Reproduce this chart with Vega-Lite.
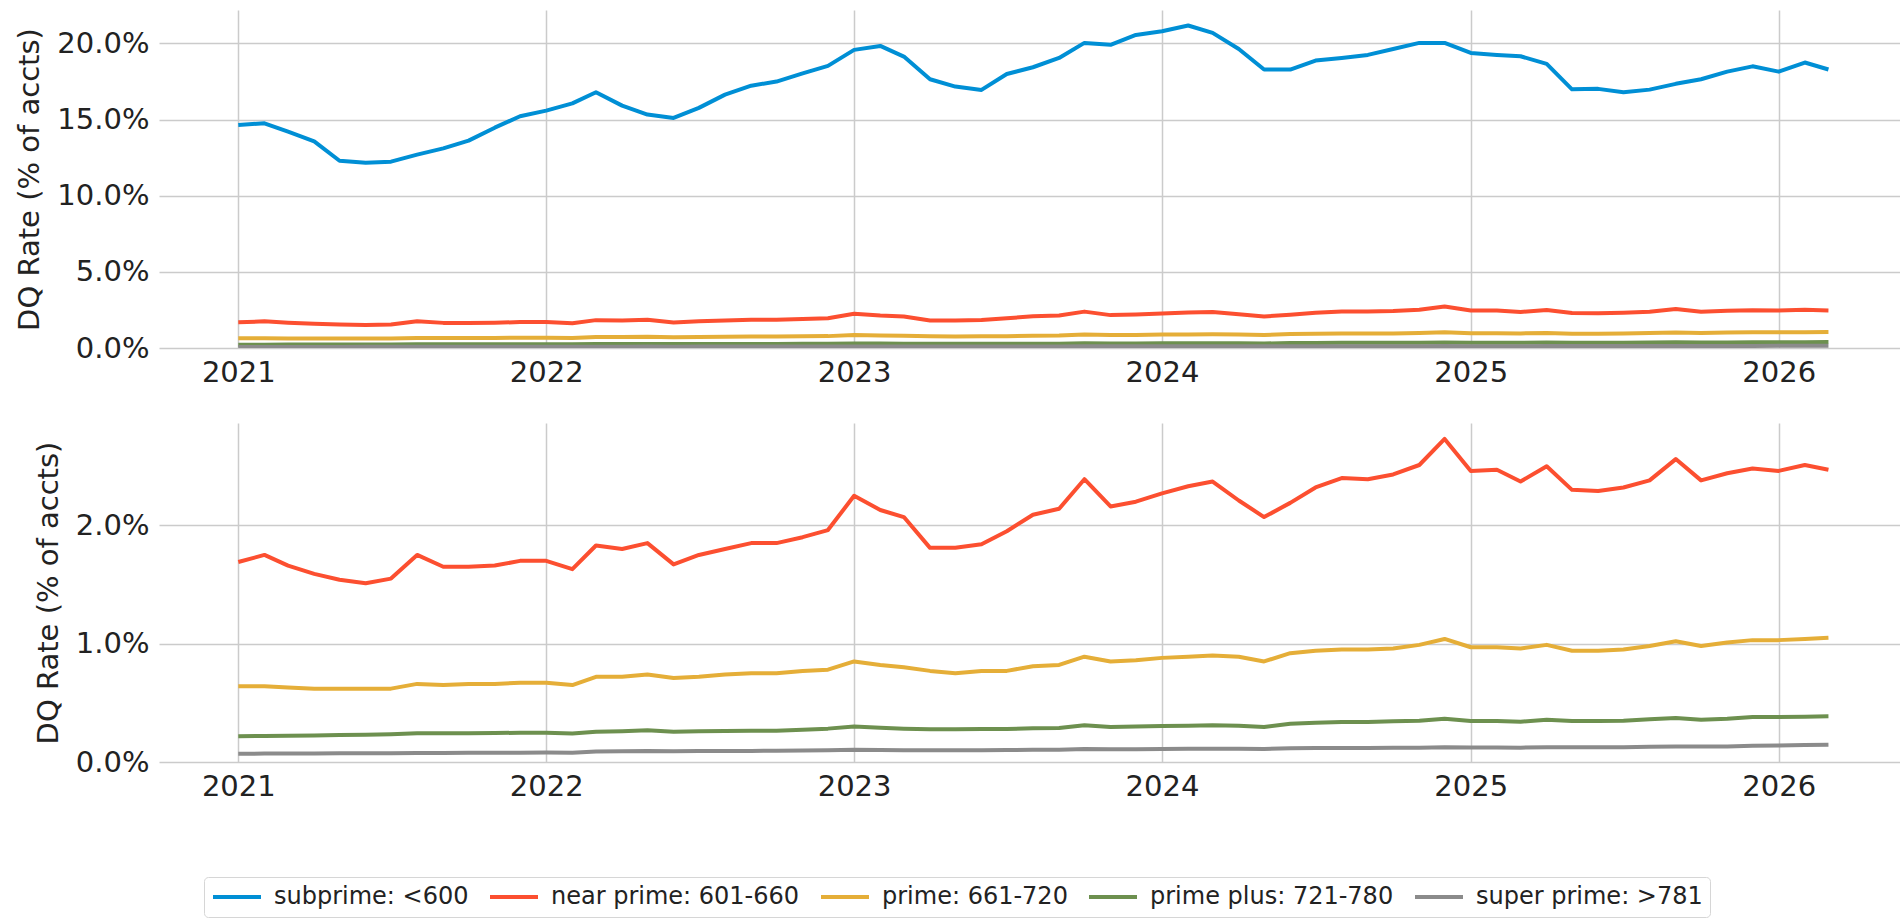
{
  "$schema": "https://vega.github.io/schema/vega-lite/v6.json",
  "background": "white",
  "padding": {"left": 15, "top": 10, "right": 0, "bottom": 0},
  "spacing": 36,
  "config": {
    "font": "DejaVu Sans",
    "view": {"stroke": null},
    "axis": {
      "labelFont": "DejaVu Sans",
      "labelFontSize": 29,
      "labelColor": "#222222",
      "titleFont": "DejaVu Sans",
      "titleFontSize": 29,
      "titleFontWeight": "normal",
      "titleColor": "#222222",
      "ticks": false,
      "domain": false,
      "grid": true,
      "gridColor": "#cbcbcb",
      "gridWidth": 1.5,
      "labelPadding": 10
    }
  },
  "data": {
    "format": {"parse": {"m": "date:'%Y-%m'"}},
    "values": [
      {"m":"2021-01","s":"subprime: <600","v":14.65},{"m":"2021-02","s":"subprime: <600","v":14.76},{"m":"2021-03","s":"subprime: <600","v":14.21},{"m":"2021-04","s":"subprime: <600","v":13.57},{"m":"2021-05","s":"subprime: <600","v":12.30},{"m":"2021-06","s":"subprime: <600","v":12.17},{"m":"2021-07","s":"subprime: <600","v":12.24},{"m":"2021-08","s":"subprime: <600","v":12.70},{"m":"2021-09","s":"subprime: <600","v":13.11},{"m":"2021-10","s":"subprime: <600","v":13.62},{"m":"2021-11","s":"subprime: <600","v":14.47},{"m":"2021-12","s":"subprime: <600","v":15.22},
      {"m":"2022-01","s":"subprime: <600","v":15.59},{"m":"2022-02","s":"subprime: <600","v":16.07},{"m":"2022-03","s":"subprime: <600","v":16.80},{"m":"2022-04","s":"subprime: <600","v":15.92},{"m":"2022-05","s":"subprime: <600","v":15.33},{"m":"2022-06","s":"subprime: <600","v":15.11},{"m":"2022-07","s":"subprime: <600","v":15.77},{"m":"2022-08","s":"subprime: <600","v":16.64},{"m":"2022-09","s":"subprime: <600","v":17.23},{"m":"2022-10","s":"subprime: <600","v":17.50},{"m":"2022-11","s":"subprime: <600","v":18.04},{"m":"2022-12","s":"subprime: <600","v":18.53},
      {"m":"2023-01","s":"subprime: <600","v":19.58},{"m":"2023-02","s":"subprime: <600","v":19.84},{"m":"2023-03","s":"subprime: <600","v":19.14},{"m":"2023-04","s":"subprime: <600","v":17.65},{"m":"2023-05","s":"subprime: <600","v":17.17},{"m":"2023-06","s":"subprime: <600","v":16.95},{"m":"2023-07","s":"subprime: <600","v":18.00},{"m":"2023-08","s":"subprime: <600","v":18.44},{"m":"2023-09","s":"subprime: <600","v":19.05},{"m":"2023-10","s":"subprime: <600","v":20.04},{"m":"2023-11","s":"subprime: <600","v":19.91},{"m":"2023-12","s":"subprime: <600","v":20.56},
      {"m":"2024-01","s":"subprime: <600","v":20.80},{"m":"2024-02","s":"subprime: <600","v":21.18},{"m":"2024-03","s":"subprime: <600","v":20.70},{"m":"2024-04","s":"subprime: <600","v":19.64},{"m":"2024-05","s":"subprime: <600","v":18.29},{"m":"2024-06","s":"subprime: <600","v":18.29},{"m":"2024-07","s":"subprime: <600","v":18.88},{"m":"2024-08","s":"subprime: <600","v":19.05},{"m":"2024-09","s":"subprime: <600","v":19.25},{"m":"2024-10","s":"subprime: <600","v":19.64},{"m":"2024-11","s":"subprime: <600","v":20.04},{"m":"2024-12","s":"subprime: <600","v":20.04},
      {"m":"2025-01","s":"subprime: <600","v":19.38},{"m":"2025-02","s":"subprime: <600","v":19.25},{"m":"2025-03","s":"subprime: <600","v":19.16},{"m":"2025-04","s":"subprime: <600","v":18.66},{"m":"2025-05","s":"subprime: <600","v":16.99},{"m":"2025-06","s":"subprime: <600","v":17.02},{"m":"2025-07","s":"subprime: <600","v":16.80},{"m":"2025-08","s":"subprime: <600","v":16.97},{"m":"2025-09","s":"subprime: <600","v":17.35},{"m":"2025-10","s":"subprime: <600","v":17.65},{"m":"2025-11","s":"subprime: <600","v":18.15},{"m":"2025-12","s":"subprime: <600","v":18.50},
      {"m":"2026-01","s":"subprime: <600","v":18.15},{"m":"2026-02","s":"subprime: <600","v":18.75},{"m":"2026-03","s":"subprime: <600","v":18.29},

      {"m":"2021-01","s":"near prime: 601-660","v":1.69},{"m":"2021-02","s":"near prime: 601-660","v":1.75},{"m":"2021-03","s":"near prime: 601-660","v":1.66},{"m":"2021-04","s":"near prime: 601-660","v":1.59},{"m":"2021-05","s":"near prime: 601-660","v":1.54},{"m":"2021-06","s":"near prime: 601-660","v":1.51},{"m":"2021-07","s":"near prime: 601-660","v":1.55},{"m":"2021-08","s":"near prime: 601-660","v":1.75},{"m":"2021-09","s":"near prime: 601-660","v":1.65},{"m":"2021-10","s":"near prime: 601-660","v":1.65},{"m":"2021-11","s":"near prime: 601-660","v":1.66},{"m":"2021-12","s":"near prime: 601-660","v":1.70},
      {"m":"2022-01","s":"near prime: 601-660","v":1.70},{"m":"2022-02","s":"near prime: 601-660","v":1.63},{"m":"2022-03","s":"near prime: 601-660","v":1.83},{"m":"2022-04","s":"near prime: 601-660","v":1.80},{"m":"2022-05","s":"near prime: 601-660","v":1.85},{"m":"2022-06","s":"near prime: 601-660","v":1.67},{"m":"2022-07","s":"near prime: 601-660","v":1.75},{"m":"2022-08","s":"near prime: 601-660","v":1.80},{"m":"2022-09","s":"near prime: 601-660","v":1.85},{"m":"2022-10","s":"near prime: 601-660","v":1.85},{"m":"2022-11","s":"near prime: 601-660","v":1.90},{"m":"2022-12","s":"near prime: 601-660","v":1.96},
      {"m":"2023-01","s":"near prime: 601-660","v":2.25},{"m":"2023-02","s":"near prime: 601-660","v":2.13},{"m":"2023-03","s":"near prime: 601-660","v":2.07},{"m":"2023-04","s":"near prime: 601-660","v":1.81},{"m":"2023-05","s":"near prime: 601-660","v":1.81},{"m":"2023-06","s":"near prime: 601-660","v":1.84},{"m":"2023-07","s":"near prime: 601-660","v":1.95},{"m":"2023-08","s":"near prime: 601-660","v":2.09},{"m":"2023-09","s":"near prime: 601-660","v":2.14},{"m":"2023-10","s":"near prime: 601-660","v":2.39},{"m":"2023-11","s":"near prime: 601-660","v":2.16},{"m":"2023-12","s":"near prime: 601-660","v":2.20},
      {"m":"2024-01","s":"near prime: 601-660","v":2.27},{"m":"2024-02","s":"near prime: 601-660","v":2.33},{"m":"2024-03","s":"near prime: 601-660","v":2.37},{"m":"2024-04","s":"near prime: 601-660","v":2.21},{"m":"2024-05","s":"near prime: 601-660","v":2.07},{"m":"2024-06","s":"near prime: 601-660","v":2.19},{"m":"2024-07","s":"near prime: 601-660","v":2.32},{"m":"2024-08","s":"near prime: 601-660","v":2.40},{"m":"2024-09","s":"near prime: 601-660","v":2.39},{"m":"2024-10","s":"near prime: 601-660","v":2.43},{"m":"2024-11","s":"near prime: 601-660","v":2.51},{"m":"2024-12","s":"near prime: 601-660","v":2.73},
      {"m":"2025-01","s":"near prime: 601-660","v":2.46},{"m":"2025-02","s":"near prime: 601-660","v":2.47},{"m":"2025-03","s":"near prime: 601-660","v":2.37},{"m":"2025-04","s":"near prime: 601-660","v":2.50},{"m":"2025-05","s":"near prime: 601-660","v":2.30},{"m":"2025-06","s":"near prime: 601-660","v":2.29},{"m":"2025-07","s":"near prime: 601-660","v":2.32},{"m":"2025-08","s":"near prime: 601-660","v":2.38},{"m":"2025-09","s":"near prime: 601-660","v":2.56},{"m":"2025-10","s":"near prime: 601-660","v":2.38},{"m":"2025-11","s":"near prime: 601-660","v":2.44},{"m":"2025-12","s":"near prime: 601-660","v":2.48},
      {"m":"2026-01","s":"near prime: 601-660","v":2.46},{"m":"2026-02","s":"near prime: 601-660","v":2.51},{"m":"2026-03","s":"near prime: 601-660","v":2.47},

      {"m":"2021-01","s":"prime: 661-720","v":0.64},{"m":"2021-02","s":"prime: 661-720","v":0.64},{"m":"2021-03","s":"prime: 661-720","v":0.63},{"m":"2021-04","s":"prime: 661-720","v":0.62},{"m":"2021-05","s":"prime: 661-720","v":0.62},{"m":"2021-06","s":"prime: 661-720","v":0.62},{"m":"2021-07","s":"prime: 661-720","v":0.62},{"m":"2021-08","s":"prime: 661-720","v":0.66},{"m":"2021-09","s":"prime: 661-720","v":0.65},{"m":"2021-10","s":"prime: 661-720","v":0.66},{"m":"2021-11","s":"prime: 661-720","v":0.66},{"m":"2021-12","s":"prime: 661-720","v":0.67},
      {"m":"2022-01","s":"prime: 661-720","v":0.67},{"m":"2022-02","s":"prime: 661-720","v":0.65},{"m":"2022-03","s":"prime: 661-720","v":0.72},{"m":"2022-04","s":"prime: 661-720","v":0.72},{"m":"2022-05","s":"prime: 661-720","v":0.74},{"m":"2022-06","s":"prime: 661-720","v":0.71},{"m":"2022-07","s":"prime: 661-720","v":0.72},{"m":"2022-08","s":"prime: 661-720","v":0.74},{"m":"2022-09","s":"prime: 661-720","v":0.75},{"m":"2022-10","s":"prime: 661-720","v":0.75},{"m":"2022-11","s":"prime: 661-720","v":0.77},{"m":"2022-12","s":"prime: 661-720","v":0.78},
      {"m":"2023-01","s":"prime: 661-720","v":0.85},{"m":"2023-02","s":"prime: 661-720","v":0.82},{"m":"2023-03","s":"prime: 661-720","v":0.80},{"m":"2023-04","s":"prime: 661-720","v":0.77},{"m":"2023-05","s":"prime: 661-720","v":0.75},{"m":"2023-06","s":"prime: 661-720","v":0.77},{"m":"2023-07","s":"prime: 661-720","v":0.77},{"m":"2023-08","s":"prime: 661-720","v":0.81},{"m":"2023-09","s":"prime: 661-720","v":0.82},{"m":"2023-10","s":"prime: 661-720","v":0.89},{"m":"2023-11","s":"prime: 661-720","v":0.85},{"m":"2023-12","s":"prime: 661-720","v":0.86},
      {"m":"2024-01","s":"prime: 661-720","v":0.88},{"m":"2024-02","s":"prime: 661-720","v":0.89},{"m":"2024-03","s":"prime: 661-720","v":0.90},{"m":"2024-04","s":"prime: 661-720","v":0.89},{"m":"2024-05","s":"prime: 661-720","v":0.85},{"m":"2024-06","s":"prime: 661-720","v":0.92},{"m":"2024-07","s":"prime: 661-720","v":0.94},{"m":"2024-08","s":"prime: 661-720","v":0.95},{"m":"2024-09","s":"prime: 661-720","v":0.95},{"m":"2024-10","s":"prime: 661-720","v":0.96},{"m":"2024-11","s":"prime: 661-720","v":0.99},{"m":"2024-12","s":"prime: 661-720","v":1.04},
      {"m":"2025-01","s":"prime: 661-720","v":0.97},{"m":"2025-02","s":"prime: 661-720","v":0.97},{"m":"2025-03","s":"prime: 661-720","v":0.96},{"m":"2025-04","s":"prime: 661-720","v":0.99},{"m":"2025-05","s":"prime: 661-720","v":0.94},{"m":"2025-06","s":"prime: 661-720","v":0.94},{"m":"2025-07","s":"prime: 661-720","v":0.95},{"m":"2025-08","s":"prime: 661-720","v":0.98},{"m":"2025-09","s":"prime: 661-720","v":1.02},{"m":"2025-10","s":"prime: 661-720","v":0.98},{"m":"2025-11","s":"prime: 661-720","v":1.01},{"m":"2025-12","s":"prime: 661-720","v":1.03},
      {"m":"2026-01","s":"prime: 661-720","v":1.03},{"m":"2026-02","s":"prime: 661-720","v":1.04},{"m":"2026-03","s":"prime: 661-720","v":1.05},

      {"m":"2021-01","s":"prime plus: 721-780","v":0.217},{"m":"2021-02","s":"prime plus: 721-780","v":0.220},{"m":"2021-03","s":"prime plus: 721-780","v":0.222},{"m":"2021-04","s":"prime plus: 721-780","v":0.225},{"m":"2021-05","s":"prime plus: 721-780","v":0.228},{"m":"2021-06","s":"prime plus: 721-780","v":0.231},{"m":"2021-07","s":"prime plus: 721-780","v":0.235},{"m":"2021-08","s":"prime plus: 721-780","v":0.243},{"m":"2021-09","s":"prime plus: 721-780","v":0.242},{"m":"2021-10","s":"prime plus: 721-780","v":0.243},{"m":"2021-11","s":"prime plus: 721-780","v":0.245},{"m":"2021-12","s":"prime plus: 721-780","v":0.247},
      {"m":"2022-01","s":"prime plus: 721-780","v":0.248},{"m":"2022-02","s":"prime plus: 721-780","v":0.240},{"m":"2022-03","s":"prime plus: 721-780","v":0.256},{"m":"2022-04","s":"prime plus: 721-780","v":0.260},{"m":"2022-05","s":"prime plus: 721-780","v":0.268},{"m":"2022-06","s":"prime plus: 721-780","v":0.255},{"m":"2022-07","s":"prime plus: 721-780","v":0.259},{"m":"2022-08","s":"prime plus: 721-780","v":0.262},{"m":"2022-09","s":"prime plus: 721-780","v":0.265},{"m":"2022-10","s":"prime plus: 721-780","v":0.265},{"m":"2022-11","s":"prime plus: 721-780","v":0.273},{"m":"2022-12","s":"prime plus: 721-780","v":0.282},
      {"m":"2023-01","s":"prime plus: 721-780","v":0.301},{"m":"2023-02","s":"prime plus: 721-780","v":0.290},{"m":"2023-03","s":"prime plus: 721-780","v":0.282},{"m":"2023-04","s":"prime plus: 721-780","v":0.276},{"m":"2023-05","s":"prime plus: 721-780","v":0.276},{"m":"2023-06","s":"prime plus: 721-780","v":0.279},{"m":"2023-07","s":"prime plus: 721-780","v":0.279},{"m":"2023-08","s":"prime plus: 721-780","v":0.285},{"m":"2023-09","s":"prime plus: 721-780","v":0.287},{"m":"2023-10","s":"prime plus: 721-780","v":0.310},{"m":"2023-11","s":"prime plus: 721-780","v":0.296},{"m":"2023-12","s":"prime plus: 721-780","v":0.299},
      {"m":"2024-01","s":"prime plus: 721-780","v":0.304},{"m":"2024-02","s":"prime plus: 721-780","v":0.307},{"m":"2024-03","s":"prime plus: 721-780","v":0.310},{"m":"2024-04","s":"prime plus: 721-780","v":0.307},{"m":"2024-05","s":"prime plus: 721-780","v":0.296},{"m":"2024-06","s":"prime plus: 721-780","v":0.324},{"m":"2024-07","s":"prime plus: 721-780","v":0.332},{"m":"2024-08","s":"prime plus: 721-780","v":0.338},{"m":"2024-09","s":"prime plus: 721-780","v":0.338},{"m":"2024-10","s":"prime plus: 721-780","v":0.344},{"m":"2024-11","s":"prime plus: 721-780","v":0.349},{"m":"2024-12","s":"prime plus: 721-780","v":0.366},
      {"m":"2025-01","s":"prime plus: 721-780","v":0.346},{"m":"2025-02","s":"prime plus: 721-780","v":0.346},{"m":"2025-03","s":"prime plus: 721-780","v":0.341},{"m":"2025-04","s":"prime plus: 721-780","v":0.358},{"m":"2025-05","s":"prime plus: 721-780","v":0.346},{"m":"2025-06","s":"prime plus: 721-780","v":0.346},{"m":"2025-07","s":"prime plus: 721-780","v":0.349},{"m":"2025-08","s":"prime plus: 721-780","v":0.361},{"m":"2025-09","s":"prime plus: 721-780","v":0.372},{"m":"2025-10","s":"prime plus: 721-780","v":0.358},{"m":"2025-11","s":"prime plus: 721-780","v":0.366},{"m":"2025-12","s":"prime plus: 721-780","v":0.380},
      {"m":"2026-01","s":"prime plus: 721-780","v":0.380},{"m":"2026-02","s":"prime plus: 721-780","v":0.383},{"m":"2026-03","s":"prime plus: 721-780","v":0.386},

      {"m":"2021-01","s":"super prime: >781","v":0.070},{"m":"2021-02","s":"super prime: >781","v":0.071},{"m":"2021-03","s":"super prime: >781","v":0.071},{"m":"2021-04","s":"super prime: >781","v":0.072},{"m":"2021-05","s":"super prime: >781","v":0.073},{"m":"2021-06","s":"super prime: >781","v":0.074},{"m":"2021-07","s":"super prime: >781","v":0.075},{"m":"2021-08","s":"super prime: >781","v":0.077},{"m":"2021-09","s":"super prime: >781","v":0.077},{"m":"2021-10","s":"super prime: >781","v":0.078},{"m":"2021-11","s":"super prime: >781","v":0.078},{"m":"2021-12","s":"super prime: >781","v":0.079},
      {"m":"2022-01","s":"super prime: >781","v":0.080},{"m":"2022-02","s":"super prime: >781","v":0.078},{"m":"2022-03","s":"super prime: >781","v":0.088},{"m":"2022-04","s":"super prime: >781","v":0.090},{"m":"2022-05","s":"super prime: >781","v":0.093},{"m":"2022-06","s":"super prime: >781","v":0.090},{"m":"2022-07","s":"super prime: >781","v":0.092},{"m":"2022-08","s":"super prime: >781","v":0.093},{"m":"2022-09","s":"super prime: >781","v":0.094},{"m":"2022-10","s":"super prime: >781","v":0.095},{"m":"2022-11","s":"super prime: >781","v":0.097},{"m":"2022-12","s":"super prime: >781","v":0.099},
      {"m":"2023-01","s":"super prime: >781","v":0.104},{"m":"2023-02","s":"super prime: >781","v":0.101},{"m":"2023-03","s":"super prime: >781","v":0.100},{"m":"2023-04","s":"super prime: >781","v":0.099},{"m":"2023-05","s":"super prime: >781","v":0.099},{"m":"2023-06","s":"super prime: >781","v":0.100},{"m":"2023-07","s":"super prime: >781","v":0.101},{"m":"2023-08","s":"super prime: >781","v":0.103},{"m":"2023-09","s":"super prime: >781","v":0.104},{"m":"2023-10","s":"super prime: >781","v":0.110},{"m":"2023-11","s":"super prime: >781","v":0.107},{"m":"2023-12","s":"super prime: >781","v":0.108},
      {"m":"2024-01","s":"super prime: >781","v":0.110},{"m":"2024-02","s":"super prime: >781","v":0.111},{"m":"2024-03","s":"super prime: >781","v":0.112},{"m":"2024-04","s":"super prime: >781","v":0.112},{"m":"2024-05","s":"super prime: >781","v":0.110},{"m":"2024-06","s":"super prime: >781","v":0.116},{"m":"2024-07","s":"super prime: >781","v":0.118},{"m":"2024-08","s":"super prime: >781","v":0.119},{"m":"2024-09","s":"super prime: >781","v":0.119},{"m":"2024-10","s":"super prime: >781","v":0.120},{"m":"2024-11","s":"super prime: >781","v":0.121},{"m":"2024-12","s":"super prime: >781","v":0.125},
      {"m":"2025-01","s":"super prime: >781","v":0.122},{"m":"2025-02","s":"super prime: >781","v":0.122},{"m":"2025-03","s":"super prime: >781","v":0.121},{"m":"2025-04","s":"super prime: >781","v":0.125},{"m":"2025-05","s":"super prime: >781","v":0.124},{"m":"2025-06","s":"super prime: >781","v":0.124},{"m":"2025-07","s":"super prime: >781","v":0.125},{"m":"2025-08","s":"super prime: >781","v":0.128},{"m":"2025-09","s":"super prime: >781","v":0.131},{"m":"2025-10","s":"super prime: >781","v":0.130},{"m":"2025-11","s":"super prime: >781","v":0.132},{"m":"2025-12","s":"super prime: >781","v":0.137},
      {"m":"2026-01","s":"super prime: >781","v":0.140},{"m":"2026-02","s":"super prime: >781","v":0.143},{"m":"2026-03","s":"super prime: >781","v":0.146}
    ]
  },
  "vconcat": [
    {
      "width": 1742,
      "height": 338,
      "mark": {"type": "line", "strokeWidth": 4, "strokeJoin": "round", "clip": true},
      "encoding": {
        "x": {"field": "m", "type": "temporal", "title": null,
          "scale": {"domain": [{"year": 2020, "month": 9, "date": 29}, {"year": 2026, "month": 5, "date": 26}]},
          "axis": {"format": "%Y", "values": [{"year": 2021}, {"year": 2022}, {"year": 2023}, {"year": 2024}, {"year": 2025}, {"year": 2026}], "labelPadding": 10}},
        "y": {"field": "v", "type": "quantitative", "title": "DQ Rate (% of accts)",
          "scale": {"domain": [0, 22.2], "nice": false},
          "axis": {"values": [0, 5, 10, 15, 20], "labelExpr": "format(datum.value, '.1f') + '%'", "titlePadding": 12}},
        "color": {"field": "s", "type": "nominal",
          "scale": {"domain": ["subprime: <600", "near prime: 601-660", "prime: 661-720", "prime plus: 721-780", "super prime: >781"],
                    "range": ["#008fd5", "#fc4f30", "#e5ae38", "#6d904f", "#8b8b8b"]},
          "legend": {"title": null, "orient": "none", "legendX": 45, "legendY": 867, "direction": "horizontal", "columns": 5,
            "symbolType": "stroke", "symbolSize": 2304, "symbolStrokeWidth": 4, "clipHeight": 26, "labelFontSize": 24, "labelFont": "DejaVu Sans",
            "labelColor": "#222222", "labelOffset": 11, "columnPadding": 19, "padding": 7, "strokeColor": "#d6d6d6",
            "cornerRadius": 4, "fillColor": "white", "labelLimit": 500}}
      }
    },
    {
      "width": 1742,
      "height": 339,
      "transform": [{"filter": "datum.s !== 'subprime: <600'"}],
      "mark": {"type": "line", "strokeWidth": 4, "strokeJoin": "round", "clip": true},
      "encoding": {
        "x": {"field": "m", "type": "temporal", "title": null,
          "scale": {"domain": [{"year": 2020, "month": 9, "date": 29}, {"year": 2026, "month": 5, "date": 26}]},
          "axis": {"format": "%Y", "values": [{"year": 2021}, {"year": 2022}, {"year": 2023}, {"year": 2024}, {"year": 2025}, {"year": 2026}], "labelPadding": 10}},
        "y": {"field": "v", "type": "quantitative", "title": "DQ Rate (% of accts)",
          "scale": {"domain": [0, 2.865], "nice": false},
          "axis": {"values": [0, 1, 2], "labelExpr": "format(datum.value, '.1f') + '%'", "titlePadding": 12}},
        "color": {"field": "s", "type": "nominal",
          "scale": {"domain": ["subprime: <600", "near prime: 601-660", "prime: 661-720", "prime plus: 721-780", "super prime: >781"],
                    "range": ["#008fd5", "#fc4f30", "#e5ae38", "#6d904f", "#8b8b8b"]},
          "legend": {"title": null, "orient": "none", "legendX": 45, "legendY": 867, "direction": "horizontal", "columns": 5,
            "symbolType": "stroke", "symbolSize": 2304, "symbolStrokeWidth": 4, "clipHeight": 26, "labelFontSize": 24, "labelFont": "DejaVu Sans",
            "labelColor": "#222222", "labelOffset": 11, "columnPadding": 19, "padding": 7, "strokeColor": "#d6d6d6",
            "cornerRadius": 4, "fillColor": "white", "labelLimit": 500}}
      }
    }
  ]
}
